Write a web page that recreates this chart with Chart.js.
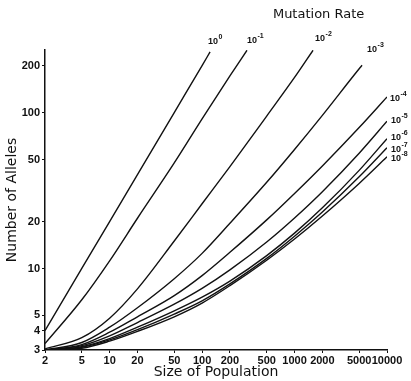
<!DOCTYPE html>
<html>
<head>
<meta charset="utf-8">
<script src="https://cdn.jsdelivr.net/npm/chart.js@4.4.0/dist/chart.umd.min.js"></script>
<style>
html, body { margin: 0; padding: 0; background: #fff; }
#wrap { width: 411px; height: 381px; }
</style>
</head>
<body>
<div id="wrap"><canvas id="alleleChart" width="411" height="381"></canvas></div>
<script>
// tick values on the two log axes
const populationTicks = [2, 5, 10, 20, 50, 100, 200, 500, 1000, 2000, 5000, 10000];
const alleleTicks = [3, 4, 5, 10, 20, 50, 100, 200];

// mutation rate = 10^exponent, one curve each
const rateExponents = [0, -1, -2, -3, -4, -5, -6, -7, -8];

// population sizes and number of alleles
const rate0N = [2, 5, 10, 20, 50, 100, 122];
const rate0A = [4, 10, 20, 40, 100, 200, 245];
const rate1N = [2, 5, 10, 20, 50, 100, 200, 306];
const rate1A = [3.3, 6.3, 11.2, 21, 47.5, 91, 172, 251];
const rate2N = [2, 5, 10, 20, 50, 100, 200, 500, 1000, 1585];
const rate2A = [3.05, 3.6, 4.8, 7.4, 15, 26, 45, 95, 168, 251];
const rate3N = [2, 5, 10, 20, 50, 100, 200, 500, 1000, 2000, 5000, 5370];
const rate3A = [3, 3.35, 4.2, 5.6, 8.6, 12.5, 19.5, 35.7, 58, 96, 191, 201];
const fullN = [2, 5, 10, 20, 50, 100, 200, 500, 1000, 2000, 5000, 10000];
const rate4A = [3, 3.25, 3.9, 4.9, 6.7, 9, 12.7, 20.5, 30.3, 45.5, 80.2, 126];
const rate5A = [3, 3.2, 3.7, 4.5, 5.9, 7.45, 9.8, 14.8, 21.1, 31.1, 54.9, 88];
const rate6A = [3, 3.15, 3.55, 4.2, 5.35, 6.55, 8.3, 12.1, 16.85, 24.5, 42.6, 68];
const rate7A = [3, 3.12, 3.48, 4.05, 5.1, 6.2, 7.96, 11.6, 16.1, 23.0, 38.7, 59.5];
const rate8A = [3, 3.08, 3.42, 3.95, 4.9, 6.0, 7.76, 11.3, 15.45, 21.7, 35.1, 52];

const curves = [
    [rate0N, rate0A], [rate1N, rate1A], [rate2N, rate2A], [rate3N, rate3A],
    [fullN, rate4A], [fullN, rate5A], [fullN, rate6A], [fullN, rate7A], [fullN, rate8A]
];

// where the "10^x" label sits relative to the end of its curve
const labelOffsets = [[-2, -8], [0, -7], [2, -9], [5, -13], [3, 4], [4, 2], [4, 1], [4, 4], [4, 4]];

const ink = '#111';

const curveLabels = {
    id: 'curveLabels',
    afterDatasetsDraw(chart) {
        const ctx = chart.ctx;
        ctx.save();
        ctx.fillStyle = ink;
        ctx.textBaseline = 'alphabetic';
        ctx.textAlign = 'left';
        chart.data.datasets.forEach((ds, i) => {
            const meta = chart.getDatasetMeta(i);
            const last = meta.data[meta.data.length - 1];
            const x = last.x + labelOffsets[i][0];
            const y = last.y + labelOffsets[i][1];
            ctx.font = 'bold 9px "Liberation Sans"';
            ctx.fillText('10', x, y);
            const w = ctx.measureText('10').width;
            ctx.font = 'bold 7px "Liberation Sans"';
            ctx.fillText(rateExponents[i] === 0 ? '0' : '-' + Math.abs(rateExponents[i]), x + w + 0.5, y - 5);
        });
        ctx.font = '13px "DejaVu Sans"';
        ctx.textAlign = 'center';
        ctx.fillText('Mutation Rate', chart.chartArea.left + (chart.chartArea.right - chart.chartArea.left) * 0.8, 18);
        ctx.restore();
    }
};

const tickFont = { family: '"Liberation Sans"', size: 11, weight: 'bold' };
const titleFont = { family: '"DejaVu Sans"', size: 14 };

new Chart(document.getElementById('alleleChart'), {
    type: 'line',
    data: {
        datasets: curves.map(([ns, as], i) => ({
            label: '10^' + rateExponents[i],
            data: ns.map((n, k) => ({ x: n, y: as[k] })),
            borderColor: ink,
            borderWidth: 1.4,
            pointRadius: 0,
            fill: false,
            cubicInterpolationMode: 'monotone'
        }))
    },
    options: {
        responsive: false,
        animation: false,
        layout: { padding: { left: 0, right: 24, top: 50, bottom: 0 } },
        plugins: { legend: { display: false }, tooltip: { enabled: false } },
        scales: {
            x: {
                type: 'logarithmic',
                min: 2,
                max: 10000,
                afterBuildTicks: s => { s.ticks = populationTicks.map(v => ({ value: v })); },
                afterFit: s => { s.height = 31; },
                border: { display: true, color: ink, width: 1.5 },
                grid: { display: true, drawOnChartArea: false, drawTicks: true, tickLength: 3, color: ink },
                ticks: { autoSkip: false, maxRotation: 0, padding: 1, color: ink, font: tickFont, callback: v => String(v) },
                title: { display: true, text: 'Size of Population', color: ink, font: titleFont, padding: { top: 0, bottom: 0 } }
            },
            y: {
                type: 'logarithmic',
                min: 3,
                max: 252,
                afterBuildTicks: s => { s.ticks = alleleTicks.map(v => ({ value: v })); },
                afterFit: s => { s.width = 45; },
                border: { display: true, color: ink, width: 1.5 },
                grid: { display: true, drawOnChartArea: false, drawTicks: true, tickLength: 3, color: ink },
                ticks: { autoSkip: false, padding: 2, color: ink, font: tickFont, callback: v => String(v) },
                title: { display: true, text: 'Number of Alleles', color: ink, font: titleFont, padding: { top: 4, bottom: 0 } }
            }
        }
    },
    plugins: [curveLabels]
});
</script>
</body>
</html>
